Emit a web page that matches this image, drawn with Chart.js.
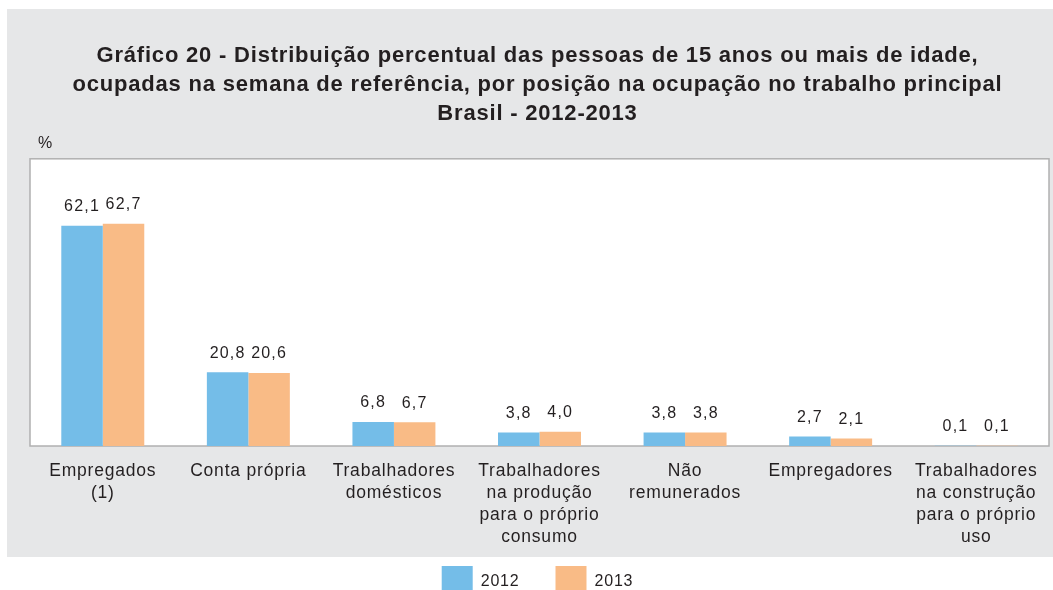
<!DOCTYPE html>
<html>
<head>
<meta charset="utf-8">
<script src="https://cdn.jsdelivr.net/npm/chart.js@4/dist/chart.umd.min.js"></script>
<style>
    html, body { margin: 0; padding: 0; background: #fff; overflow: hidden; }
    #chart { display: block; }
</style>
</head>
<body>
<canvas id="chart" width="1053" height="607"></canvas>
<script>
// Dados
const categorias = [
    ["Empregados", "(1)"],
    ["Conta própria"],
    ["Trabalhadores", "domésticos"],
    ["Trabalhadores", "na produção", "para o próprio", "consumo"],
    ["Não", "remunerados"],
    ["Empregadores"],
    ["Trabalhadores", "na construção", "para o próprio", "uso"],
];
const anos = ["2012", "2013"];
const valores2012 = [62.1, 20.8, 6.8, 3.8, 3.8, 2.7, 0.1];
const valores2013 = [62.7, 20.6, 6.7, 4.0, 3.8, 2.1, 0.1];
const titulo = [
    "Gráfico 20 - Distribuição percentual das pessoas de 15 anos ou mais de idade,",
    "ocupadas na semana de referência, por posição na ocupação no trabalho principal",
    "Brasil - 2012-2013",
];

const FONT = "'Liberation Sans', Arial, Helvetica, sans-serif";
const TEXT = "#231f20";
const SPACING = "0.8px";

// fundo cinza, area branca e "%"
const fundo = {
    id: "fundo",
    beforeUpdate(chart) {
        chart.ctx.letterSpacing = SPACING;
    },
    beforeDraw(chart) {
        const ctx = chart.ctx;
        const a = chart.chartArea;
        ctx.letterSpacing = SPACING;
        ctx.save();
        ctx.fillStyle = "#fff";
        ctx.fillRect(0, 0, chart.width, chart.height);
        ctx.fillStyle = "#e6e7e8";
        ctx.fillRect(7, 9, chart.width - 7, 548);
        ctx.fillStyle = "#fff";
        ctx.fillRect(a.left, a.top, a.right - a.left, a.bottom - a.top);
        ctx.strokeStyle = "#b0b0b0";
        ctx.lineWidth = 1.5;
        ctx.strokeRect(a.left, a.top, a.right - a.left, a.bottom - a.top);
        ctx.fillStyle = TEXT;
        ctx.font = "16px " + FONT;
        ctx.textBaseline = "middle";
        ctx.textAlign = "left";
        ctx.fillText("%", 38, 144);
        ctx.restore();
    },
};

// rotulos de valor acima das barras
const rotulos = {
    id: "rotulos",
    afterDatasetsDraw(chart) {
        const ctx = chart.ctx;
        ctx.save();
        ctx.letterSpacing = "1.2px";
        ctx.font = "16px " + FONT;
        ctx.fillStyle = TEXT;
        ctx.textAlign = "center";
        ctx.textBaseline = "middle";
        chart.data.datasets.forEach((ds, i) => {
            chart.getDatasetMeta(i).data.forEach((bar, j) => {
                const txt = ds.data[j].toFixed(1).replace(".", ",");
                ctx.fillText(txt, bar.x, bar.y - 19);
            });
        });
        ctx.restore();
    },
};

new Chart(document.getElementById("chart"), {
    type: "bar",
    data: {
        labels: categorias,
        datasets: [
            {
                label: anos[0],
                data: valores2012,
                backgroundColor: "#74bde8",
                categoryPercentage: 0.57,
                barPercentage: 1,
            },
            {
                label: anos[1],
                data: valores2013,
                backgroundColor: "#f9bb86",
                categoryPercentage: 0.57,
                barPercentage: 1,
            },
        ],
    },
    options: {
        responsive: false,
        devicePixelRatio: 1,
        animation: false,
        layout: { padding: { left: 26, right: 4, top: 0, bottom: 0 } },
        scales: {
            x: {
                grid: { display: false, drawTicks: false },
                border: { display: false },
                ticks: {
                    autoSkip: false,
                    maxRotation: 0,
                    padding: 14,
                    color: TEXT,
                    font: { family: FONT, size: 17.5, lineHeight: 1.26 },
                },
                afterFit: (s) => {
                    s.height = 84;
                    // labels run past the axis box down to the panel bottom
                    s._computeLabelArea = () => undefined;
                },
            },
            y: {
                min: 0,
                max: 81,
                grid: { display: false },
                border: { display: false },
                ticks: { display: false },
                afterFit: (s) => { s.width = 4; },
            },
        },
        plugins: {
            title: {
                display: true,
                text: titulo,
                color: TEXT,
                font: { family: FONT, size: 22, weight: "bold", lineHeight: 1.3 },
                padding: { top: 42, bottom: 31 },
            },
            legend: {
                position: "bottom",
                labels: {
                    boxWidth: 31,
                    boxHeight: 31,
                    padding: 36,
                    color: TEXT,
                    font: { family: FONT, size: 16 },
                },
            },
            tooltip: { enabled: false },
        },
    },
    plugins: [fundo, rotulos],
});
</script>
</body>
</html>
